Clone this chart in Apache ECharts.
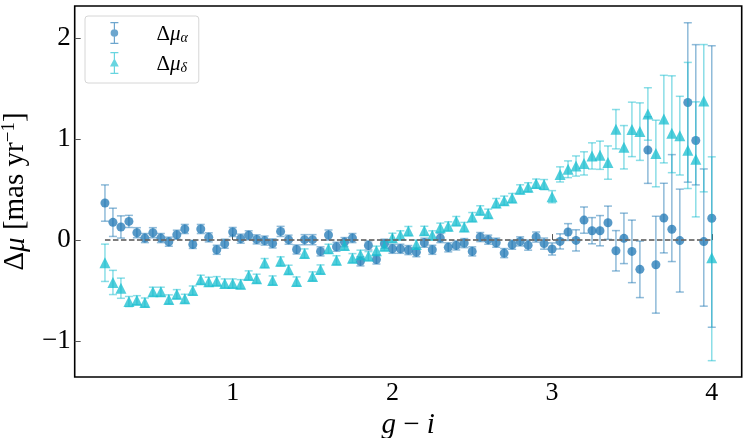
<!DOCTYPE html>
<html>
<head>
<meta charset="utf-8">
<script src="https://cdn.jsdelivr.net/npm/echarts@6/dist/echarts.min.js"></script>
<style>html,body{margin:0;padding:0;background:#fff}#c{width:748px;height:438px}</style>
</head>
<body>
<div id="c"></div>
<script>
const xValues = [
  0.20,0.25,0.30,0.35,0.40,0.45,0.50,0.55,0.60,0.65,
  0.70,0.75,0.80,0.85,0.90,0.95,1.00,1.05,1.10,1.15,
  1.20,1.25,1.30,1.35,1.40,1.45,1.50,1.55,1.60,1.65,
  1.70,1.75,1.80,1.85,1.90,1.95,2.00,2.05,2.10,2.15,
  2.20,2.25,2.30,2.35,2.40,2.45,2.50,2.55,2.60,2.65,
  2.70,2.75,2.80,2.85,2.90,2.95,3.00,3.05,3.10,3.15,
  3.20,3.25,3.30,3.35,3.40,3.45,3.50,3.55,3.60,3.65,
  3.70,3.75,3.80,3.85,3.90,3.95,4.00];

const muAlpha = [
  0.367,0.176,0.130,0.185,0.073,0.020,0.073,0.020,-0.016,0.053,
  0.110,-0.043,0.110,0.027,-0.096,-0.036,0.080,0.014,0.047,0.007,
  -0.005,-0.033,0.086,0.004,-0.093,0.004,0.004,-0.112,0.050,-0.066,
  -0.020,0.020,-0.211,-0.053,-0.192,-0.036,-0.086,-0.086,-0.099,-0.120,
  -0.026,-0.096,0.020,-0.072,-0.053,-0.030,-0.112,0.030,0.004,-0.026,
  -0.129,-0.046,-0.013,-0.050,0.030,-0.035,-0.088,-0.013,0.080,-0.003,
  0.198,0.093,0.093,0.172,-0.106,0.017,-0.112,-0.290,0.892,-0.244,
  0.218,0.107,-0.005,1.364,0.987,-0.015,0.216];

const alphaErrUp = [
  0.18,0.14,0.11,0.06,0.05,0.045,0.05,0.045,0.045,0.045,
  0.045,0.04,0.045,0.045,0.045,0.045,0.045,0.045,0.045,0.045,
  0.045,0.045,0.05,0.045,0.045,0.05,0.05,0.045,0.05,0.045,
  0.045,0.045,0.045,0.045,0.045,0.045,0.045,0.045,0.045,0.045,
  0.045,0.045,0.045,0.045,0.045,0.045,0.045,0.045,0.045,0.045,
  0.045,0.045,0.045,0.05,0.05,0.055,0.06,0.075,0.083,0.105,
  0.13,0.13,0.15,0.165,0.20,0.25,0.31,0.28,0.33,0.48,
  0.345,0.74,0.51,0.79,0.95,0.72,1.71];

const alphaErrDown = [
  0.18,0.14,0.11,0.06,0.05,0.045,0.05,0.045,0.045,0.045,
  0.045,0.04,0.045,0.045,0.045,0.045,0.045,0.045,0.045,0.045,
  0.045,0.045,0.05,0.045,0.045,0.05,0.05,0.045,0.05,0.045,
  0.045,0.045,0.045,0.045,0.045,0.045,0.045,0.045,0.045,0.045,
  0.045,0.045,0.045,0.045,0.045,0.045,0.045,0.045,0.045,0.045,
  0.045,0.045,0.045,0.05,0.05,0.055,0.06,0.075,0.083,0.105,
  0.13,0.13,0.15,0.165,0.20,0.25,0.31,0.28,0.33,0.48,
  0.345,0.32,0.51,0.79,0.44,0.64,1.08];

const muDelta = [
  -0.225,-0.420,-0.477,-0.609,-0.596,-0.619,-0.512,-0.512,-0.588,-0.536,
  -0.582,-0.500,-0.393,-0.413,-0.407,-0.430,-0.430,-0.437,-0.350,-0.383,
  -0.228,-0.400,-0.211,-0.294,-0.410,-0.132,-0.360,-0.291,-0.086,-0.200,
  -0.053,-0.179,-0.145,-0.159,-0.105,-0.060,0.023,0.047,0.090,-0.045,
  0.092,0.047,0.123,0.136,0.189,0.130,0.228,0.295,0.262,0.367,
  0.391,0.417,0.503,0.523,0.560,0.550,0.430,0.651,0.702,0.734,
  0.760,0.834,0.841,0.768,1.099,0.920,1.097,1.075,1.250,0.858,
  1.199,1.058,1.035,0.891,0.800,1.378,-0.175];

const deltaErrUp = [
  0.185,0.12,0.10,0.05,0.045,0.045,0.045,0.045,0.045,0.045,
  0.045,0.045,0.045,0.045,0.045,0.045,0.045,0.045,0.045,0.045,
  0.045,0.045,0.045,0.045,0.045,0.045,0.045,0.045,0.045,0.045,
  0.045,0.045,0.045,0.045,0.045,0.045,0.045,0.045,0.045,0.045,
  0.045,0.045,0.045,0.045,0.045,0.045,0.045,0.045,0.045,0.045,
  0.045,0.045,0.045,0.045,0.045,0.05,0.06,0.075,0.083,0.10,
  0.115,0.13,0.14,0.165,0.195,0.215,0.27,0.285,0.26,0.33,
  0.434,0.57,0.39,0.87,0.57,0.56,1.00];

const deltaErrDown = [
  0.185,0.12,0.10,0.05,0.045,0.045,0.045,0.045,0.045,0.045,
  0.045,0.045,0.045,0.045,0.045,0.045,0.045,0.045,0.045,0.045,
  0.045,0.045,0.045,0.045,0.045,0.045,0.045,0.045,0.045,0.045,
  0.045,0.045,0.045,0.045,0.045,0.045,0.045,0.045,0.045,0.045,
  0.045,0.045,0.045,0.045,0.045,0.045,0.045,0.045,0.045,0.045,
  0.045,0.045,0.045,0.045,0.045,0.05,0.06,0.075,0.083,0.10,
  0.115,0.13,0.14,0.165,0.195,0.215,0.27,0.285,0.26,0.33,
  0.434,0.39,0.39,0.38,0.57,0.90,1.02];

const xTicks = [1, 2, 3, 4];
const yTicks = [-1, 0, 1, 2];
const zeroLine = [[xValues[0], 0], [xValues[xValues.length - 1], 0]];

const C_ALPHA = '#1f77b4';
const C_DELTA = '#17becf';
const SERIF = '"Liberation Serif", "DejaVu Serif", serif';

function errRender(color) {
  return function (params, api) {
    const x = api.value(0), y = api.value(1), up = api.value(2), dn = api.value(3);
    const t = api.coord([x, y + up]);
    const b = api.coord([x, y - dn]);
    const hw = 4;
    const style = { stroke: color, lineWidth: 1.5, opacity: 0.5 };
    return {
      type: 'group',
      children: [
        { type: 'line', shape: { x1: t[0], y1: t[1], x2: b[0], y2: b[1] }, style: style },
        { type: 'line', shape: { x1: t[0] - hw, y1: t[1], x2: t[0] + hw, y2: t[1] }, style: style },
        { type: 'line', shape: { x1: b[0] - hw, y1: b[1], x2: b[0] + hw, y2: b[1] }, style: style }
      ]
    };
  };
}

const iconAlpha = 'path://M1,0H9V1.2H1Z M1,20.8H9V22H1Z M4.4,0H5.6V22H4.4Z M8.8,11A3.8,3.8 0 1,1 1.2,11A3.8,3.8 0 1,1 8.8,11Z';
const iconDelta = 'path://M1,0H9V1.2H1Z M1,20.8H9V22H1Z M4.4,0H5.6V22H4.4Z M5,6.2L9.4,14.6H0.6Z';

const chart = echarts.init(document.getElementById('c'));
chart.setOption({
  animation: false,
  backgroundColor: '#fff',
  grid: {
    left: 74.7, right: 6.3, top: 6, bottom: 61,
    containLabel: false, outerBoundsMode: 'none',
    show: true, borderColor: '#000', borderWidth: 1.6, backgroundColor: 'transparent'
  },
  legend: {
    left: 85, top: 16, orient: 'vertical',
    padding: [6, 11, 8, 25], itemGap: 7,
    itemWidth: 10, itemHeight: 22,
    borderColor: '#d6d6d6', borderWidth: 1, borderRadius: 3, backgroundColor: '#fff',
    data: [
      { name: 'alpha', icon: iconAlpha, itemStyle: { color: C_ALPHA, opacity: 0.65 } },
      { name: 'delta', icon: iconDelta, itemStyle: { color: C_DELTA, opacity: 0.65 } }
    ],
    formatter: function (name) {
      return name === 'alpha' ? '{a|Δ}{b|μ}{c|α}' : '{a|Δ}{b|μ}{c|δ}';
    },
    textStyle: {
      padding: [0, 0, 0, 32],
      rich: {
        a: { fontFamily: SERIF, fontSize: 21, color: '#000', verticalAlign: 'bottom', lineHeight: 24 },
        b: { fontFamily: SERIF, fontSize: 21, fontStyle: 'italic', color: '#000', verticalAlign: 'bottom', lineHeight: 24 },
        c: { fontFamily: SERIF, fontSize: 14, fontStyle: 'italic', color: '#000', verticalAlign: 'bottom', lineHeight: 17 }
      }
    }
  },
  xAxis: {
    type: 'value', min: 0.0105, max: 4.1875,
    splitLine: { show: false },
    axisLine: { show: false },
    axisTick: { show: true, inside: true, length: 6, customValues: xTicks, lineStyle: { color: '#555', width: 1 } },
    axisLabel: { customValues: xTicks, margin: 3, color: '#000', fontFamily: SERIF, fontSize: 26 },
    name: '{i|g} − {i|i}', nameLocation: 'middle', nameGap: 15,
    nameTextStyle: {
      fontFamily: SERIF, fontSize: 29, color: '#000',
      rich: { i: { fontFamily: SERIF, fontSize: 29, fontStyle: 'italic', color: '#000' } }
    }
  },
  yAxis: {
    type: 'value', min: -1.357, max: 2.32,
    splitLine: { show: false },
    axisLine: { show: false },
    axisTick: { show: true, inside: true, length: 6, customValues: yTicks, lineStyle: { color: '#555', width: 1 } },
    axisLabel: {
      customValues: yTicks, margin: 4, color: '#000', fontFamily: SERIF, fontSize: 27,
      formatter: function (v) { return v < 0 ? '−' + Math.abs(v) : String(v); }
    },
    name: 'Δ{i|μ} [mas yr{s|−1}]', nameLocation: 'middle', nameGap: 38,
    nameTextStyle: {
      fontFamily: SERIF, fontSize: 29, color: '#000', verticalAlign: 'bottom',
      rich: {
        i: { fontFamily: SERIF, fontSize: 29, fontStyle: 'italic', color: '#000', verticalAlign: 'bottom', lineHeight: 32 },
        s: { fontFamily: SERIF, fontSize: 19, color: '#000', verticalAlign: 'top', lineHeight: 32 }
      }
    }
  },
  series: [
    {
      name: 'alpha', type: 'custom', renderItem: errRender(C_ALPHA), z: 2, silent: true,
      encode: { x: 0, y: 1 },
      data: xValues.map(function (x, i) { return [x, muAlpha[i], alphaErrUp[i], alphaErrDown[i]]; })
    },
    {
      name: 'alpha', type: 'scatter', symbol: 'circle', symbolSize: 9, z: 3,
      itemStyle: { color: C_ALPHA, opacity: 0.75 },
      data: xValues.map(function (x, i) { return [x, muAlpha[i]]; })
    },
    {
      name: 'delta', type: 'custom', renderItem: errRender(C_DELTA), z: 4, silent: true,
      encode: { x: 0, y: 1 },
      data: xValues.map(function (x, i) { return [x, muDelta[i], deltaErrUp[i], deltaErrDown[i]]; })
    },
    {
      name: 'delta', type: 'scatter', symbol: 'triangle', symbolSize: [11, 11], z: 5,
      itemStyle: { color: C_DELTA, opacity: 0.75 },
      data: xValues.map(function (x, i) { return [x, muDelta[i]]; })
    },
    {
      name: 'zero', type: 'line', z: 6, symbol: 'none', silent: true,
      lineStyle: { color: '#666', width: 2, type: [5.5, 2.5], opacity: 0.85 },
      data: zeroLine
    }
  ]
});
</script>
</body>
</html>
